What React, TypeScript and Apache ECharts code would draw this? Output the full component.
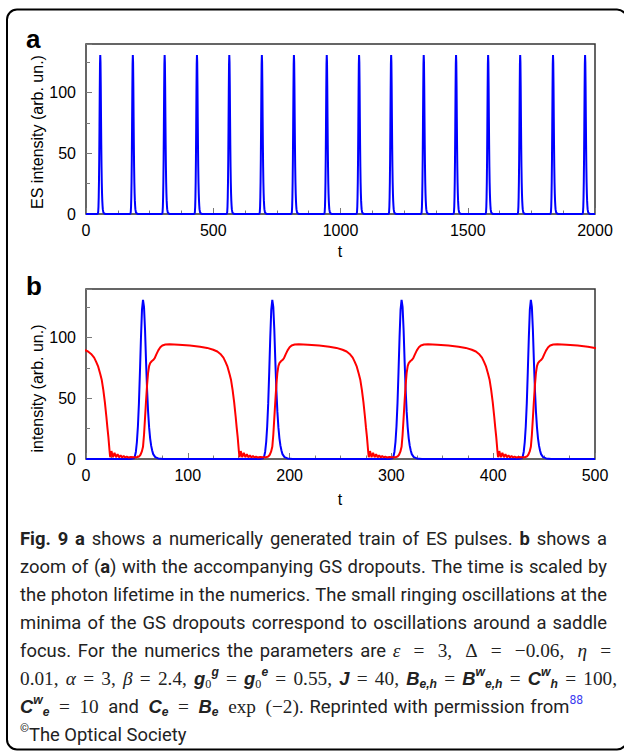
import React, { useEffect, useRef } from 'react';
import * as echarts from 'echarts';

// ---------- data ----------
// ES pulse peak times, panel a (t units)
const esPeakTimesA = [56, 184, 309, 436, 563, 691, 817, 946, 1073, 1199, 1327, 1454, 1580, 1706, 1835, 1961];
// ES pulse peak times, panel b
const esPeakTimesB = [56, 183, 310, 437];
// ES pulse shape: offset from peak (t) and intensity
const esPulseOffsets = [-12, -9, -8, -7, -6, -5, -4, -3, -2, -1, 0, 1, 2, 3, 4, 5, 6, 7, 8, 9, 10, 12, 15, 20];
const esPulseValues = [0, 0.5, 2, 6, 14, 27, 46, 72, 100, 123, 131, 125, 106, 80, 57, 39, 26, 17, 11, 7, 4, 1.5, 0.5, 0];
// GS cycles, referenced to the ES peak of each cycle (first one is the cycle before t = 0)
const gsCycleRefs = [-71, 56, 183, 310, 437];
// GS intensity over one cycle: offset from ES peak (t) and intensity
const gsOffsets = [
  -32.2, -31, -29.5, -28, -26.5, -25, -23.5, -22, -20.5, -19, -17.5, -16, -14.5, -12, -9, -6, -4, -2.5, -1.2,
  0, 1, 2, 3, 4, 5, 6, 7, 8.5, 10, 11.5, 13, 15, 17, 19, 22, 26, 35, 46, 56, 63, 69, 73, 76, 79, 81, 83, 85,
  86.5, 88, 89.5, 91, 92, 93, 94, 94.5,
];
const gsValues = [
  1.5, 6.5, 1.5, 5, 1.5, 4, 1.4, 3, 1.3, 2.4, 1.3, 2, 1.3, 1.6, 1.4, 1.5, 2, 3.5, 6,
  10, 20, 34, 48, 61, 71, 76.5, 79, 80.5, 81.5, 83, 86, 89.5, 92, 93.5, 94.3, 94.5, 94.1, 93.4, 92.5, 91.5, 90, 88.5, 86.5, 83.5, 80, 76, 70,
  65, 57, 47, 35, 26, 18, 8, 3.5,
];

const xRangeA = [0, 2000];
const xRangeB = [0, 500];
const yRange = [0, 140];

// ---------- caption ----------
type Piece = [string, string];
const captionLines: Piece[][] = [
  [['Fig. 9 a', 'b'], [' shows a numerically generated train of ES pulses. ', 'r'], ['b', 'b'], [' shows a', 'r']],
  [['zoom of (', 'r'], ['a', 'b'], [') with the accompanying GS dropouts. The time is scaled by', 'r']],
  [['the photon lifetime in the numerics. The small ringing oscillations at the', 'r']],
  [['minima of the GS dropouts correspond to oscillations around a saddle', 'r']],
  [['focus. For the numerics the parameters are ', 'r'], ['ε', 'mi'], [' = 3, ', 'm'], ['Δ', 'm'], [' = −0.06, ', 'm'], ['η', 'mi'], [' =', 'm']],
  [['0.01, ', 'm'], ['α', 'mi'], [' = 3, ', 'm'], ['β', 'mi'], [' = 2.4, ', 'm'], ['g', 'v'], ['0', 'msub'], ['g', 'vsup'], [' = ', 'm'],
    ['g', 'v'], ['0', 'msub'], ['e', 'vsup'], [' = 0.55, ', 'm'], ['J', 'v'], [' = 40, ', 'm'], ['B', 'v'], ['e,h', 'vsub'], [' = ', 'm'],
    ['B', 'v'], ['w', 'vsup'], ['e,h', 'vsub'], [' = ', 'm'], ['C', 'v'], ['w', 'vsup'], ['h', 'vsub'], [' = 100,', 'm']],
  [['C', 'v'], ['w', 'vsup'], ['e', 'vsub'], [' = 10 ', 'm'], ['and', 'r'], [' ', 'm'], ['C', 'v'], ['e', 'vsub'], [' = ', 'm'], ['B', 'v'], ['e', 'vsub'],
    [' exp (−2)', 'm'], ['. Reprinted with permission from', 'r'], ['88', 'ref']],
  [['©', 'copy'], ['The Optical Society', 'r']],
];
// right edge of each justified line (px from caption start) and the relative stretch of math spaces
const captionTargets: (number | null)[] = [587, 587, 587, 587, 591, 597, 563, null];
const captionMathWeight = [1, 1, 1, 1, 3, 3, 3, 1];
const captionYs = [538, 566, 594, 622, 650, 678, 706, 734];
const MATH_STYLES: Record<string, boolean> = { m: true, mi: true };

function makeFonts(s: number): Record<string, string> {
  const r = (v: number) => Math.round(v * 10) / 10;
  return {
    r: `${r(s)}px Roboto`,
    b: `bold ${r(s)}px Roboto`,
    m: `${r(s * 1.05)}px Liberation Serif`,
    mi: `italic ${r(s * 1.05)}px Liberation Serif`,
    v: `italic bold ${r(s)}px Liberation Sans`,
    vsub: `italic bold ${r(s * 0.66)}px Liberation Sans`,
    vsup: `italic bold ${r(s * 0.66)}px Liberation Sans`,
    msub: `${r(s * 0.66)}px Liberation Serif`,
    ref: `${r(s * 0.66)}px Roboto`,
    copy: `${r(s * 0.62)}px Roboto`,
  };
}

function buildPulseTrain(peaks: number[], tMin: number, tMax: number) {
  const pts: number[][] = [[tMin, 0]];
  peaks.forEach((p) => esPulseOffsets.forEach((o, i) => pts.push([p + o, esPulseValues[i]])));
  pts.push([tMax, 0]);
  return pts;
}
function buildGs() {
  const pts: number[][] = [];
  gsCycleRefs.forEach((r) => gsOffsets.forEach((o, i) => pts.push([r + o, gsValues[i]])));
  return pts;
}

let measureCtx: CanvasRenderingContext2D | null = null;
function textW(s: string, font: string) {
  if (!measureCtx) measureCtx = document.createElement('canvas').getContext('2d');
  measureCtx!.font = font;
  return measureCtx!.measureText(s).width;
}

function tokenize(pieces: Piece[]) {
  const tokens: { t: string; st: string }[] = [];
  pieces.forEach(([text, st]) =>
    text.split(/( )/).forEach((part) => {
      if (part === '') return;
      if (part === ' ') tokens.push({ t: ' ', st: MATH_STYLES[st] ? 'msp' : 'sp' });
      else tokens.push({ t: part, st });
    })
  );
  return tokens;
}

function buildCaptionLine(pieces: Piece[], target: number | null, mathWeight: number, FONT: Record<string, string>) {
  const tokens = tokenize(pieces);
  const spaceW = textW(' ', FONT.r);
  const mspaceW = textW(' ', FONT.m) * 1.3;
  let natural = 0;
  let nsp = 0;
  let nmsp = 0;
  tokens.forEach((tk) => {
    if (tk.st === 'sp') {
      natural += spaceW;
      nsp++;
    } else if (tk.st === 'msp') {
      natural += mspaceW;
      nmsp++;
    } else natural += textW(tk.t, FONT[tk.st]);
  });
  let unit = 0;
  if (target != null && nsp + nmsp > 0) unit = (target - natural) / (nsp + mathWeight * nmsp);
  const text = tokens.map((tk) => `{${tk.st}|${tk.st === 'sp' || tk.st === 'msp' ? '\u00a0' : tk.t}}`).join('');
  const rich: Record<string, any> = {
    r: { font: FONT.r },
    b: { font: FONT.b },
    m: { font: FONT.m },
    mi: { font: FONT.mi },
    v: { font: FONT.v },
    vsub: { font: FONT.vsub, verticalAlign: 'bottom' },
    vsup: { font: FONT.vsup, verticalAlign: 'top' },
    msub: { font: FONT.msub, verticalAlign: 'bottom' },
    ref: { font: FONT.ref, verticalAlign: 'top', fill: '#3c3cf0' },
    copy: { font: FONT.copy, verticalAlign: 'top' },
    sp: { font: FONT.r, width: Math.max(2, spaceW + unit) },
    msp: { font: FONT.r, width: Math.max(2, mspaceW + unit * mathWeight) },
  };
  return { text, rich };
}

const TICK_COLOR = '#7a7a7a';
const labelStyle = { color: '#000', fontFamily: 'Liberation Sans', fontSize: 16 };

function xAxisCfg(gridIndex: number, range: number[], interval: number) {
  return {
    type: 'value', gridIndex, min: range[0], max: range[1], interval, position: 'bottom',
    axisLine: { show: false },
    axisTick: { show: true, inside: true, length: 6, lineStyle: { color: TICK_COLOR, width: 1 } },
    minorTick: { show: true, splitNumber: 4, length: 3.5, lineStyle: { color: TICK_COLOR, width: 1 } },
    splitLine: { show: false },
    minorSplitLine: { show: false },
    axisLabel: { ...labelStyle, margin: 8, formatter: (v: number) => String(v) },
  };
}
function yAxisCfgs(gridIndex: number) {
  return [
    {
      type: 'value', gridIndex, min: yRange[0], max: yRange[1], interval: 25, position: 'left',
      axisLine: { show: false },
      axisTick: { show: true, inside: true, length: 4, lineStyle: { color: TICK_COLOR, width: 1 } },
      splitLine: { show: false },
      axisLabel: { ...labelStyle, margin: 10, formatter: (v: number) => (v % 50 === 0 ? String(v) : '') },
    },
    {
      type: 'value', gridIndex, min: yRange[0], max: yRange[1], interval: 50, position: 'left',
      axisLine: { show: false },
      axisTick: { show: true, inside: true, length: 6, lineStyle: { color: TICK_COLOR, width: 1 } },
      splitLine: { show: false },
      axisLabel: { show: false },
    },
  ];
}

export default function App() {
  const ref = useRef<HTMLDivElement>(null);
  useEffect(() => {
    if (!ref.current) return;
    const chart = echarts.init(ref.current, undefined, { renderer: 'svg' });

    // size the caption font so that line 3 (a plain text line) has normal spacing
    const probe = makeFonts(18);
    const l3 = textW(captionLines[2][0][0], probe.r);
    const capSize = Math.min(19, (18 * 582) / l3);
    const FONT = makeFonts(capSize);

    const captionGraphics = captionLines.map((pieces, i) => {
      const { text, rich } = buildCaptionLine(pieces, captionTargets[i], captionMathWeight[i], FONT);
      return {
        type: 'text', x: 20, y: captionYs[i], silent: true,
        style: { text, rich, fill: '#222', align: 'left', verticalAlign: 'middle', lineHeight: 24, font: FONT.r },
      };
    });

    const option: any = {
      animation: false,
      backgroundColor: '#fff',
      grid: [
        { left: 86, top: 44, width: 509, height: 170, show: true, borderColor: '#333', borderWidth: 1.5, backgroundColor: 'transparent' },
        { left: 86, top: 289, width: 509, height: 170, show: true, borderColor: '#333', borderWidth: 1.5, backgroundColor: 'transparent' },
      ],
      xAxis: [xAxisCfg(0, xRangeA, 500), xAxisCfg(1, xRangeB, 100)],
      yAxis: [...yAxisCfgs(0), ...yAxisCfgs(1)],
      series: [
        {
          type: 'line', name: 'ES a', xAxisIndex: 0, yAxisIndex: 0, data: buildPulseTrain(esPeakTimesA, xRangeA[0], xRangeA[1]),
          showSymbol: false, symbol: 'none', lineStyle: { color: '#0000ff', width: 2 }, z: 3,
        },
        {
          type: 'line', name: 'ES b', xAxisIndex: 1, yAxisIndex: 2, data: buildPulseTrain(esPeakTimesB, xRangeB[0], xRangeB[1]),
          showSymbol: false, symbol: 'none', lineStyle: { color: '#0000ff', width: 2 }, z: 3,
        },
        {
          type: 'line', name: 'GS b', xAxisIndex: 1, yAxisIndex: 2, data: buildGs(),
          showSymbol: false, symbol: 'none', lineStyle: { color: '#ff0000', width: 2 }, z: 4,
        },
      ],
      graphic: [
        { type: 'rect', silent: true, shape: { x: 7, y: 9.5, width: 620, height: 740, r: 10 }, style: { fill: 'none', stroke: '#000', lineWidth: 2 } },
        { type: 'text', silent: true, x: 26, y: 38.5, style: { text: 'a', font: 'bold 26px Liberation Sans', fill: '#000', align: 'left', verticalAlign: 'middle' } },
        { type: 'text', silent: true, x: 26, y: 286, style: { text: 'b', font: 'bold 26px Liberation Sans', fill: '#000', align: 'left', verticalAlign: 'middle' } },
        { type: 'text', silent: true, x: 37, y: 132, rotation: Math.PI / 2, style: { text: 'ES intensity (arb. un.)', font: '16px Liberation Sans', fill: '#000', align: 'center', verticalAlign: 'middle' } },
        { type: 'text', silent: true, x: 37, y: 388.5, rotation: Math.PI / 2, style: { text: 'intensity (arb. un.)', font: '16px Liberation Sans', fill: '#000', align: 'center', verticalAlign: 'middle' } },
        { type: 'text', silent: true, x: 340, y: 251, style: { text: 't', font: '16px Liberation Sans', fill: '#000', align: 'center', verticalAlign: 'middle' } },
        { type: 'text', silent: true, x: 340, y: 499, style: { text: 't', font: '16px Liberation Sans', fill: '#000', align: 'center', verticalAlign: 'middle' } },
        ...captionGraphics,
      ],
    };
    chart.setOption(option);
    return () => chart.dispose();
  }, []);
  return <div ref={ref} style={{ position: 'absolute', left: 0, top: 0, width: 624, height: 751 }} />;
}
